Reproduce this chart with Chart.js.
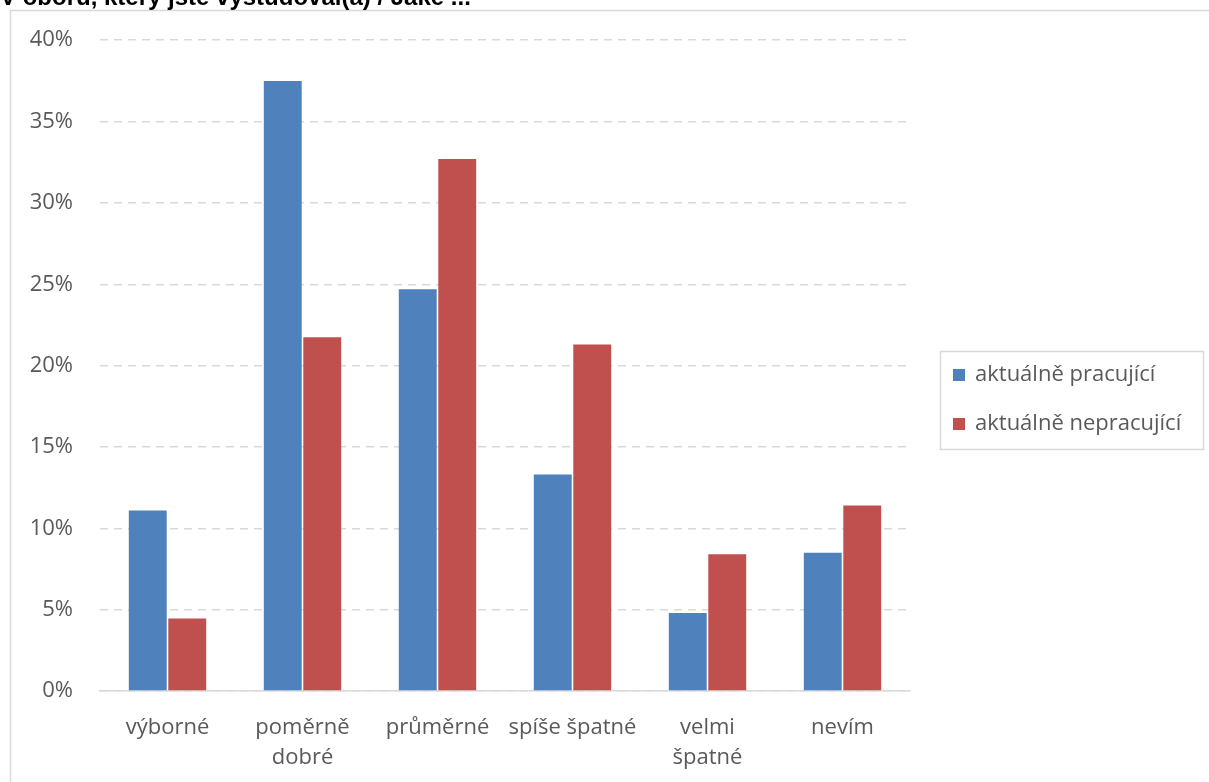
<!DOCTYPE html>
<html>
<head>
<meta charset="utf-8">
<script src="https://cdn.jsdelivr.net/npm/chart.js@4"></script>
<style>
  html, body { margin: 0; padding: 0; background: #fff; }
  #wrap { width: 1209px; height: 782px; position: relative; }
</style>
</head>
<body>
<div id="wrap"><canvas id="chart" width="1209" height="782"></canvas></div>
<script>
// ===== DADOS =====
const categories = ['výborné', ['poměrně', 'dobré'], 'průměrné', 'spíše špatné', ['velmi', 'špatné'], 'nevím'];
const seriesNames = ['aktuálně pracující', 'aktuálně nepracující'];
const working = [11.1, 37.5, 24.7, 13.3, 4.8, 8.5];
const notWorking = [4.45, 21.75, 32.7, 21.3, 8.4, 11.4];
const yTicks = [0, 5, 10, 15, 20, 25, 30, 35, 40];
const titleText = 'V oboru, který jste vystudoval(a) / Jaké ...';

const colors = ['#4f81bd', '#c0504d'];
const FONT = '"Open Sans", "Noto Sans", sans-serif';
const textColor = '#595959';
const lineColor = '#d9d9d9';

// moldura, título cortado e legenda
const framePlugin = {
    id: 'frame',
    beforeDraw(chart) {
        const ctx = chart.ctx;
        ctx.save();
        ctx.fillStyle = '#fff';
        ctx.fillRect(0, 0, chart.width, chart.height);
        ctx.strokeStyle = lineColor;
        ctx.lineWidth = 1.5;
        ctx.beginPath();
        ctx.moveTo(10.5, chart.height);
        ctx.lineTo(10.5, 10.5);
        ctx.lineTo(chart.width, 10.5);
        ctx.stroke();
        ctx.fillStyle = '#000';
        ctx.font = 'bold 24px "Liberation Sans", Arial, sans-serif';
        ctx.textBaseline = 'alphabetic';
        ctx.fillText(titleText, 0, 5);
        ctx.restore();
    },
    afterDraw(chart) {
        const ctx = chart.ctx;
        ctx.save();
        ctx.strokeStyle = lineColor;
        ctx.lineWidth = 1.5;
        ctx.strokeRect(940.5, 351.5, 263, 98);
        ctx.font = '22px ' + FONT;
        ctx.textBaseline = 'middle';
        chart.data.datasets.forEach((ds, i) => {
            const cy = 375 + i * 49;
            ctx.fillStyle = ds.backgroundColor;
            ctx.fillRect(953, cy - 6, 12, 12);
            ctx.fillStyle = textColor;
            ctx.fillText(ds.label, 975, cy);
        });
        ctx.restore();
    }
};

new Chart(document.getElementById('chart'), {
    type: 'bar',
    data: {
        labels: categories,
        datasets: [
            { label: seriesNames[0], data: working, backgroundColor: colors[0] },
            { label: seriesNames[1], data: notWorking, backgroundColor: colors[1] }
        ]
    },
    options: {
        responsive: false,
        animation: false,
        datasets: {
            bar: { categoryPercentage: 0.585, barPercentage: 0.96 }
        },
        layout: { padding: { left: 0, top: 38, right: 299, bottom: 0 } },
        plugins: {
            legend: { display: false },
            tooltip: { enabled: false }
        },
        scales: {
            x: {
                grid: { display: false },
                border: { display: true, color: lineColor, width: 1.5 },
                ticks: {
                    color: textColor,
                    font: { family: FONT, size: 22, lineHeight: 1.4 },
                    padding: 13,
                    maxRotation: 0,
                    autoSkip: false
                },
                afterFit(scale) { scale.height = 91; }
            },
            y: {
                min: 0,
                max: 40,
                afterBuildTicks(scale) { scale.ticks = yTicks.map(v => ({ value: v })); },
                grid: {
                    color: lineColor,
                    lineWidth: 1.5,
                    drawTicks: false
                },
                border: { display: false, dash: [8, 6] },
                ticks: {
                    color: textColor,
                    font: { family: FONT, size: 22 },
                    padding: 27,
                    callback: v => v + '%'
                },
                afterFit(scale) { scale.width = 100; }
            }
        }
    },
    plugins: [framePlugin]
});
</script>
</body>
</html>
